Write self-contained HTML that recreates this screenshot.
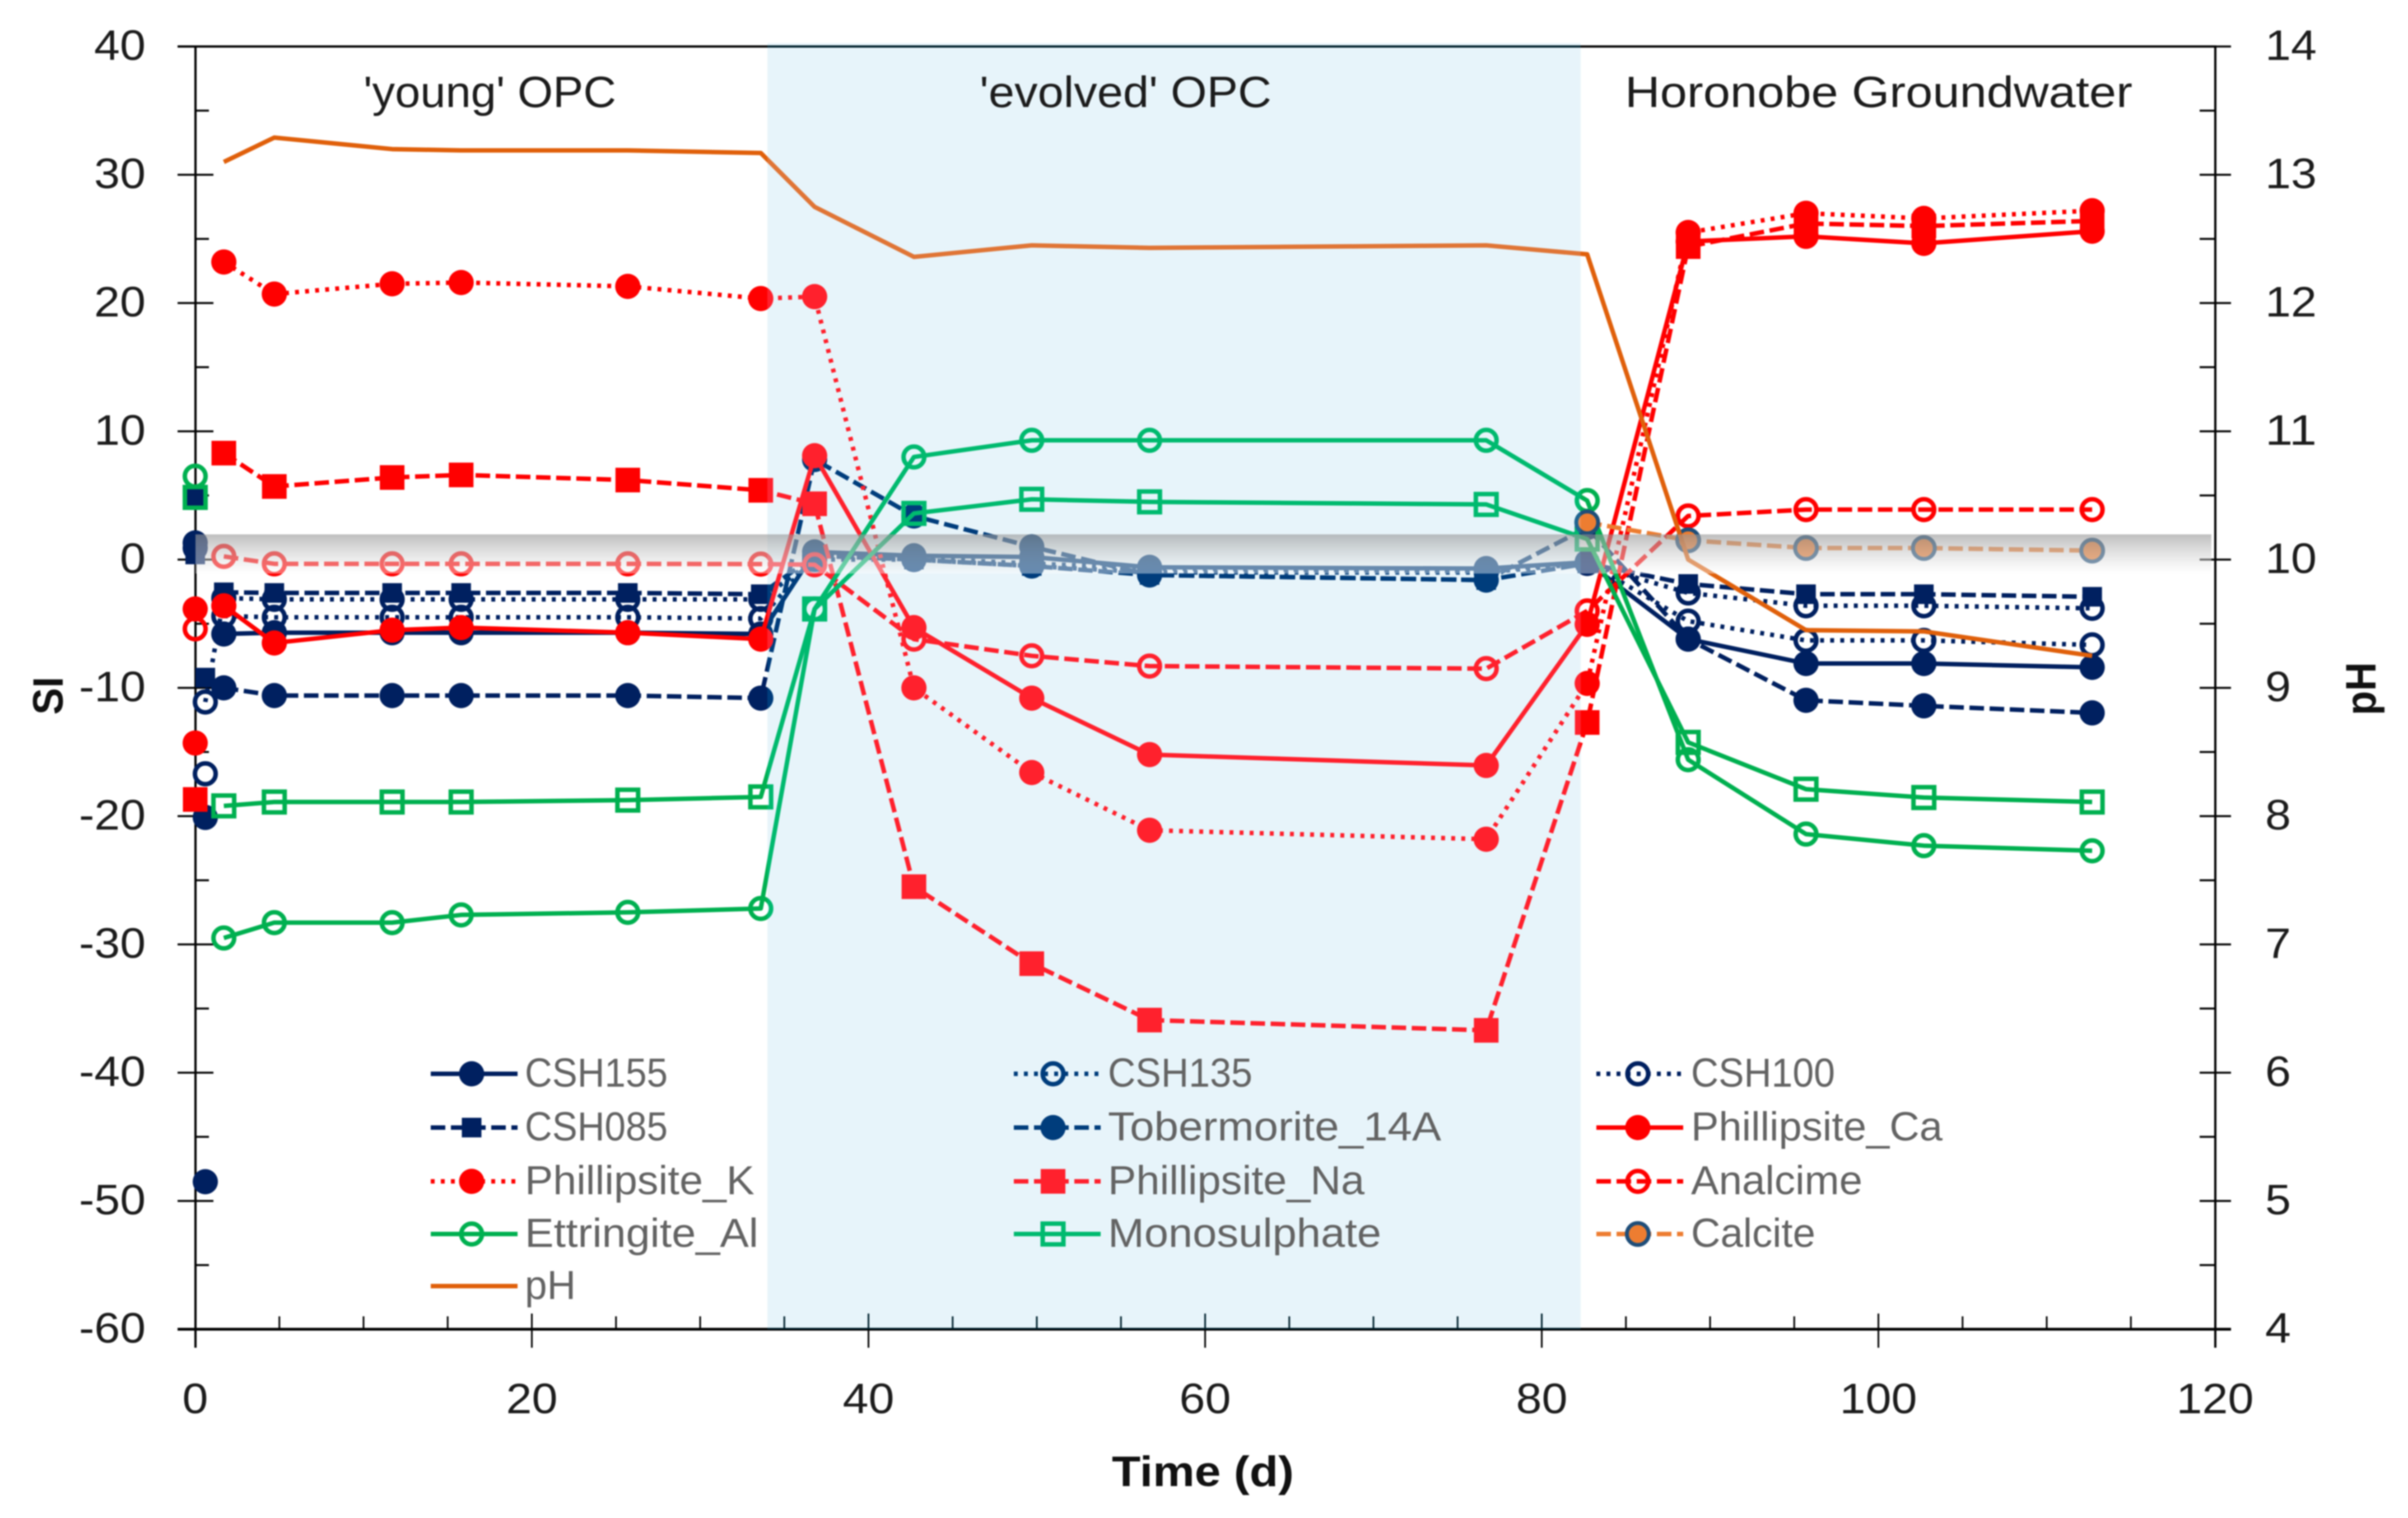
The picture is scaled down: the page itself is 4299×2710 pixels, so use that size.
<!DOCTYPE html>
<html lang="en">
<head>
<meta charset="utf-8">
<title>SI and pH over time</title>
<style>
html,body{margin:0;padding:0;background:#fff;width:4299px;height:2710px;overflow:hidden}
svg{display:block;position:absolute;left:0;top:0;filter:blur(1.2px)}
text{font-family:"Liberation Sans",sans-serif}
</style>
</head>
<body>
<svg id="chart" xmlns="http://www.w3.org/2000/svg" width="4299" height="2710" viewBox="0 0 4299 2710">
  <defs>
    <linearGradient id="greyFade" x1="0" y1="0" x2="0" y2="1">
      <stop offset="0" stop-color="rgb(150,150,150)" stop-opacity="0.62"/>
      <stop offset="1" stop-color="rgb(255,255,255)" stop-opacity="0.4"/>
    </linearGradient>
  </defs>
  <rect x="0" y="0" width="4299" height="2710" fill="#ffffff"/>
  <rect x="1370" y="77" width="1452" height="2296" fill="#E7F2F9"/>
  <g id="axes"></g>
  <g id="legendHandles"></g>
  <g id="marks"></g>
  <rect x="1370" y="77" width="1452" height="2296" fill="rgb(0,33,45)" style="mix-blend-mode:screen"/>
  <rect x="349" y="954" width="3599" height="70" fill="url(#greyFade)"/>
  <g id="tickLabels"></g>
  <g id="legendLabels"></g>
  <text x="649" y="191" font-size="78" fill="#1c1c1c" textLength="451" lengthAdjust="spacingAndGlyphs">'young' OPC</text>
  <text x="1749" y="191" font-size="78" fill="#1c1c1c" textLength="521" lengthAdjust="spacingAndGlyphs">'evolved' OPC</text>
  <text x="2901" y="191" font-size="78" fill="#1c1c1c" textLength="906" lengthAdjust="spacingAndGlyphs">Horonobe Groundwater</text>
  <text x="1985" y="2653" font-size="76" font-weight="bold" fill="#111" textLength="325" lengthAdjust="spacingAndGlyphs">Time (d)</text>
  <text transform="translate(112,1276) rotate(-90)" font-size="76" font-weight="bold" fill="#111" textLength="68" lengthAdjust="spacingAndGlyphs">SI</text>
  <text transform="translate(4241,1277) rotate(-90)" font-size="76" font-weight="bold" fill="#111" textLength="95" lengthAdjust="spacingAndGlyphs">pH</text>
</svg>
<script>
const days = [1.7, 4.7, 11.7, 15.8, 25.7, 33.6, 36.8, 42.7, 49.7, 56.7, 76.7, 82.7, 88.7, 95.7, 102.7, 112.7];
const csh135Days = [0.6, 1.7, 4.7, 11.7, 15.8, 25.7, 33.6, 36.8, 42.7, 49.7, 56.7, 76.7, 82.7, 88.7, 95.7, 102.7, 112.7];

const csh155 = [-5.8, -5.7, -5.7, -5.7, -5.7, -5.8, 0.6, 0.3, 0.2, -0.6, -0.7, -0.2, -6.2, -8.1, -8.1, -8.4];
const csh135 = [-11.1, -3.0, -3.1, -3.1, -3.1, -3.1, -3.1, 0.0, 0.0, -0.5, -1.0, -1.0, -0.3, -2.6, -3.6, -3.6, -3.8];
const csh100 = [-4.4, -4.5, -4.5, -4.5, -4.5, -4.6, 0.3, 0.1, -0.3, -0.7, -0.9, -0.2, -4.8, -6.3, -6.3, -6.65];
const csh085 = [-2.55, -2.6, -2.6, -2.6, -2.6, -2.7, 0.3, 0.0, -0.5, -1.2, -1.6, -0.3, -1.9, -2.7, -2.7, -2.9];
const tobermorite14A = [-10.0, -10.6, -10.6, -10.6, -10.6, -10.8, 7.8, 3.4, 1.0, -1.2, -1.6, 2.5, -6.2, -10.97, -11.4, -11.95];
const phillipsiteCa = [-3.6, -6.5, -5.5, -5.3, -5.7, -6.2, 8.1, -5.3, -10.8, -15.2, -16.05, -5.05, 24.8, 25.2, 24.65, 25.6];
const phillipsiteK = [23.2, 20.7, 21.5, 21.6, 21.3, 20.35, 20.5, -10.0, -16.6, -21.1, -21.8, -9.65, 25.5, 27.0, 26.6, 27.2];
const phillipsiteNa = [8.3, 5.7, 6.4, 6.6, 6.2, 5.4, 4.35, -25.5, -31.5, -35.9, -36.7, -12.7, 24.4, 26.2, 26.0, 26.4];
const analcime = [0.25, -0.33, -0.33, -0.33, -0.33, -0.35, -0.4, -6.2, -7.5, -8.3, -8.5, -4.0, 3.4, 3.9, 3.9, 3.9];
const ettringiteAl = [-29.5, -28.3, -28.3, -27.7, -27.5, -27.2, -3.85, 8.0, 9.3, 9.3, 9.3, 4.6, -15.6, -21.4, -22.3, -22.7];
const monosulphate = [-19.2, -18.9, -18.9, -18.9, -18.75, -18.5, -3.85, 3.6, 4.7, 4.5, 4.3, 1.6, -14.25, -17.9, -18.55, -18.9];
const calcite = [null, null, null, null, null, null, null, null, null, null, null, 2.9, 1.5, 0.9, 0.9, 0.7];
const pH = [13.1, 13.29, 13.2, 13.19, 13.19, 13.17, 12.75, 12.36, 12.45, 12.43, 12.45, 12.38, 10.0, 9.45, 9.44, 9.25];

const earlySeries = ['CSH155', 'CSH155', 'Tobermorite_14A', 'Tobermorite_14A', 'CSH085', 'CSH085', 'CSH085', 'CSH100', 'Phillipsite_Ca', 'Analcime', 'Phillipsite_K', 'Phillipsite_Na', 'Ettringite_Al', 'Monosulphate'];
const earlyDays = [0, 0.6, 0, 0.6, 0, 0, 0.6, 0.6, 0, 0, 0, 0, 0, 0];
const earlyValues = [1.3, -20.1, 0.9, -48.5, 4.85, 0.4, -9.2, -16.7, -3.85, -5.4, -14.3, -18.7, 6.5, 4.85];

const timeTicks = [0, 20, 40, 60, 80, 100, 120];
const siTicks = [40, 30, 20, 10, 0, -10, -20, -30, -40, -50, -60];
const phTicks = [14, 13, 12, 11, 10, 9, 8, 7, 6, 5, 4];

const NAVY = '#002060', RED = '#FF0000', GREEN = '#00B050', ORANGE = '#ED7D31', PHC = '#E0600B';
const DASH = '26 10', DOT = '7 11';

const seriesList = [
  {name: 'CSH155', days: days, values: csh155, color: NAVY, dash: null, marker: 'disc', col: 0, row: 0, w: 255},
  {name: 'CSH135', days: csh135Days, values: csh135, color: NAVY, dash: DOT, marker: 'ring', col: 1, row: 0, w: 258},
  {name: 'CSH100', days: days, values: csh100, color: NAVY, dash: DOT, marker: 'ring', col: 2, row: 0, w: 257},
  {name: 'CSH085', days: days, values: csh085, color: NAVY, dash: DASH, marker: 'smallSquare', col: 0, row: 1, w: 255},
  {name: 'Tobermorite_14A', days: days, values: tobermorite14A, color: NAVY, dash: DASH, marker: 'disc', col: 1, row: 1, w: 595},
  {name: 'Phillipsite_Ca', days: days, values: phillipsiteCa, color: RED, dash: null, marker: 'disc', col: 2, row: 1, w: 449},
  {name: 'Phillipsite_K', days: days, values: phillipsiteK, color: RED, dash: DOT, marker: 'disc', col: 0, row: 2, w: 410},
  {name: 'Phillipsite_Na', days: days, values: phillipsiteNa, color: RED, dash: DASH, marker: 'square', col: 1, row: 2, w: 458},
  {name: 'Analcime', days: days, values: analcime, color: RED, dash: DASH, marker: 'ring', col: 2, row: 2, w: 306},
  {name: 'Ettringite_Al', days: days, values: ettringiteAl, color: GREEN, dash: null, marker: 'ring', col: 0, row: 3, w: 417},
  {name: 'Monosulphate', days: days, values: monosulphate, color: GREEN, dash: null, marker: 'openSquare', col: 1, row: 3, w: 488},
  {name: 'Calcite', days: days, values: calcite, color: ORANGE, dash: DASH, marker: 'calcite', col: 2, row: 3, w: 222},
  {name: 'pH', days: days, values: pH, color: PHC, dash: null, marker: null, col: 0, row: 4, w: 91, secondary: true}
];

const NS = 'http://www.w3.org/2000/svg';
const xAxis = function (d) { return 348.5 + d * 30.05; };
const siAxis = function (s) { return 999 - s * 22.9; };
const phAxis = function (p) { return 2373 - (p - 4) * 229; };

function make(tag, parent, attrs) {
  const el = document.createElementNS(NS, tag);
  for (const k in attrs) el.setAttribute(k, attrs[k]);
  parent.appendChild(el);
  return el;
}
function labelWidth(v) {
  const s = String(Math.abs(v));
  return s.length * 46 + (v < 0 ? 27 : 0);
}
function drawMarker(parent, type, color, x, y) {
  let m;
  if (type === 'disc') m = make('circle', parent, {cx: x, cy: y, r: 22.5, fill: color});
  else if (type === 'ring') m = make('circle', parent, {cx: x, cy: y, r: 18.5, fill: 'none', stroke: color, 'stroke-width': 8});
  else if (type === 'square') m = make('rect', parent, {x: x - 22, y: y - 22, width: 44, height: 44, fill: color});
  else if (type === 'smallSquare') m = make('rect', parent, {x: x - 17.5, y: y - 17.5, width: 35, height: 35, fill: color});
  else if (type === 'openSquare') m = make('rect', parent, {x: x - 18.5, y: y - 18.5, width: 37, height: 37, fill: 'none', stroke: color, 'stroke-width': 8});
  else if (type === 'calcite') m = make('circle', parent, {cx: x, cy: y, r: 19.5, fill: color, stroke: '#1F4E79', 'stroke-width': 7});
  return m;
}

const axesG = document.getElementById('axes');
const tickG = document.getElementById('tickLabels');

const frame = make('path', axesG, {d: 'M317 83H3955V2406M349 83V2406', fill: 'none', stroke: '#000', 'stroke-width': 4});


const xLine = make('line', axesG, {x1: 317, y1: 2373, x2: 3983, y2: 2373, stroke: '#000', 'stroke-width': 5});



timeTicks.forEach(function (t) {
  const x = xAxis(t);
  const tick = make('line', axesG, {x1: x, y1: 2345, x2: x, y2: 2406, stroke: '#000', 'stroke-width': 3});
  
  
  if (t < 120) {
    const mx = xAxis(t + 5), mx2 = xAxis(t + 10), mx3 = xAxis(t + 15);
    [mx, mx2, mx3].forEach(function (q) {
      const minor = make('line', axesG, {x1: q, y1: 2350, x2: q, y2: 2373, stroke: '#000', 'stroke-width': 3});
      
      
    });
  }
  const w = labelWidth(t);
  const lab = make('text', tickG, {x: x - w / 2, y: 2523, 'font-size': 76, fill: '#1c1c1c', textLength: w, lengthAdjust: 'spacingAndGlyphs'});
  lab.textContent = String(t);
  
  
});

siTicks.forEach(function (v, i) {
  const y = siAxis(v);
  const tick = make('line', axesG, {x1: 317, y1: y, x2: 381, y2: y, stroke: '#000', 'stroke-width': 3.5});
  
  
  if (i < siTicks.length - 1) {
    const my = siAxis(v - 5);
    const minor = make('line', axesG, {x1: 349, y1: my, x2: 373, y2: my, stroke: '#000', 'stroke-width': 3.5});
    
    
  }
  const w = labelWidth(v);
  const lab = make('text', tickG, {x: 260 - w, y: y + 24, 'font-size': 76, fill: '#1c1c1c', textLength: w, lengthAdjust: 'spacingAndGlyphs'});
  lab.textContent = String(v);
  
  
});

phTicks.forEach(function (v, i) {
  const y = phAxis(v);
  const tick = make('line', axesG, {x1: 3927, y1: y, x2: 3983, y2: y, stroke: '#000', 'stroke-width': 3.5});
  
  
  if (i < phTicks.length - 1) {
    const my = phAxis(v - 0.5);
    const minor = make('line', axesG, {x1: 3927, y1: my, x2: 3955, y2: my, stroke: '#000', 'stroke-width': 3.5});
    
    
  }
  const w = labelWidth(v);
  const lab = make('text', tickG, {x: 4044, y: y + 24, 'font-size': 76, fill: '#1c1c1c', textLength: w, lengthAdjust: 'spacingAndGlyphs'});
  lab.textContent = String(v);
  
  
});

const marksG = document.getElementById('marks');
seriesList.forEach(function (s) {
  const group = make('g', marksG, {});
  
  
  const yOf = s.secondary ? phAxis : siAxis;
  const pts = [];
  s.values.forEach(function (v, i) {
    if (v !== null) pts.push([xAxis(s.days[i]), yOf(v)]);
  });
  const line = make('polyline', group, {
    points: pts.map(function (p) { return p[0].toFixed(1) + ',' + p[1].toFixed(1); }).join(' '),
    fill: 'none', stroke: s.color, 'stroke-width': 8, 'stroke-linejoin': 'round'
  });
  if (s.dash) line.setAttribute('stroke-dasharray', s.dash);
  
  
  if (s.marker) {
    earlySeries.forEach(function (nm, i) {
      if (nm !== s.name) return;
      const em = drawMarker(group, s.marker, s.color, xAxis(earlyDays[i]), siAxis(earlyValues[i]));
      
      
    });
    pts.forEach(function (p) {
      const m = drawMarker(group, s.marker, s.color, p[0], p[1]);
      
      
    });
  }
});

const handleG = document.getElementById('legendHandles');
const labelG = document.getElementById('legendLabels');
const colLineStart = [769, 1810, 2850];
const colMarker = [842, 1880, 2924];
const colText = [937, 1978, 3019];
const rowY = [1917, 2013, 2109, 2203, 2296];
seriesList.forEach(function (s) {
  const y = rowY[s.row];
  const x0 = colLineStart[s.col];
  const h = make('line', handleG, {x1: x0, y1: y, x2: x0 + 155, y2: y, stroke: s.color, 'stroke-width': 8});
  if (s.dash) h.setAttribute('stroke-dasharray', s.dash);
  
  
  if (s.marker) {
    const m = drawMarker(handleG, s.marker, s.color, colMarker[s.col], y);
    
    
  }
  const t = make('text', labelG, {x: colText[s.col], y: y + 23, 'font-size': 72, fill: '#636363', textLength: s.w, lengthAdjust: 'spacingAndGlyphs'});
  t.textContent = s.name;
  
  
});
</script>
</body>
</html>
